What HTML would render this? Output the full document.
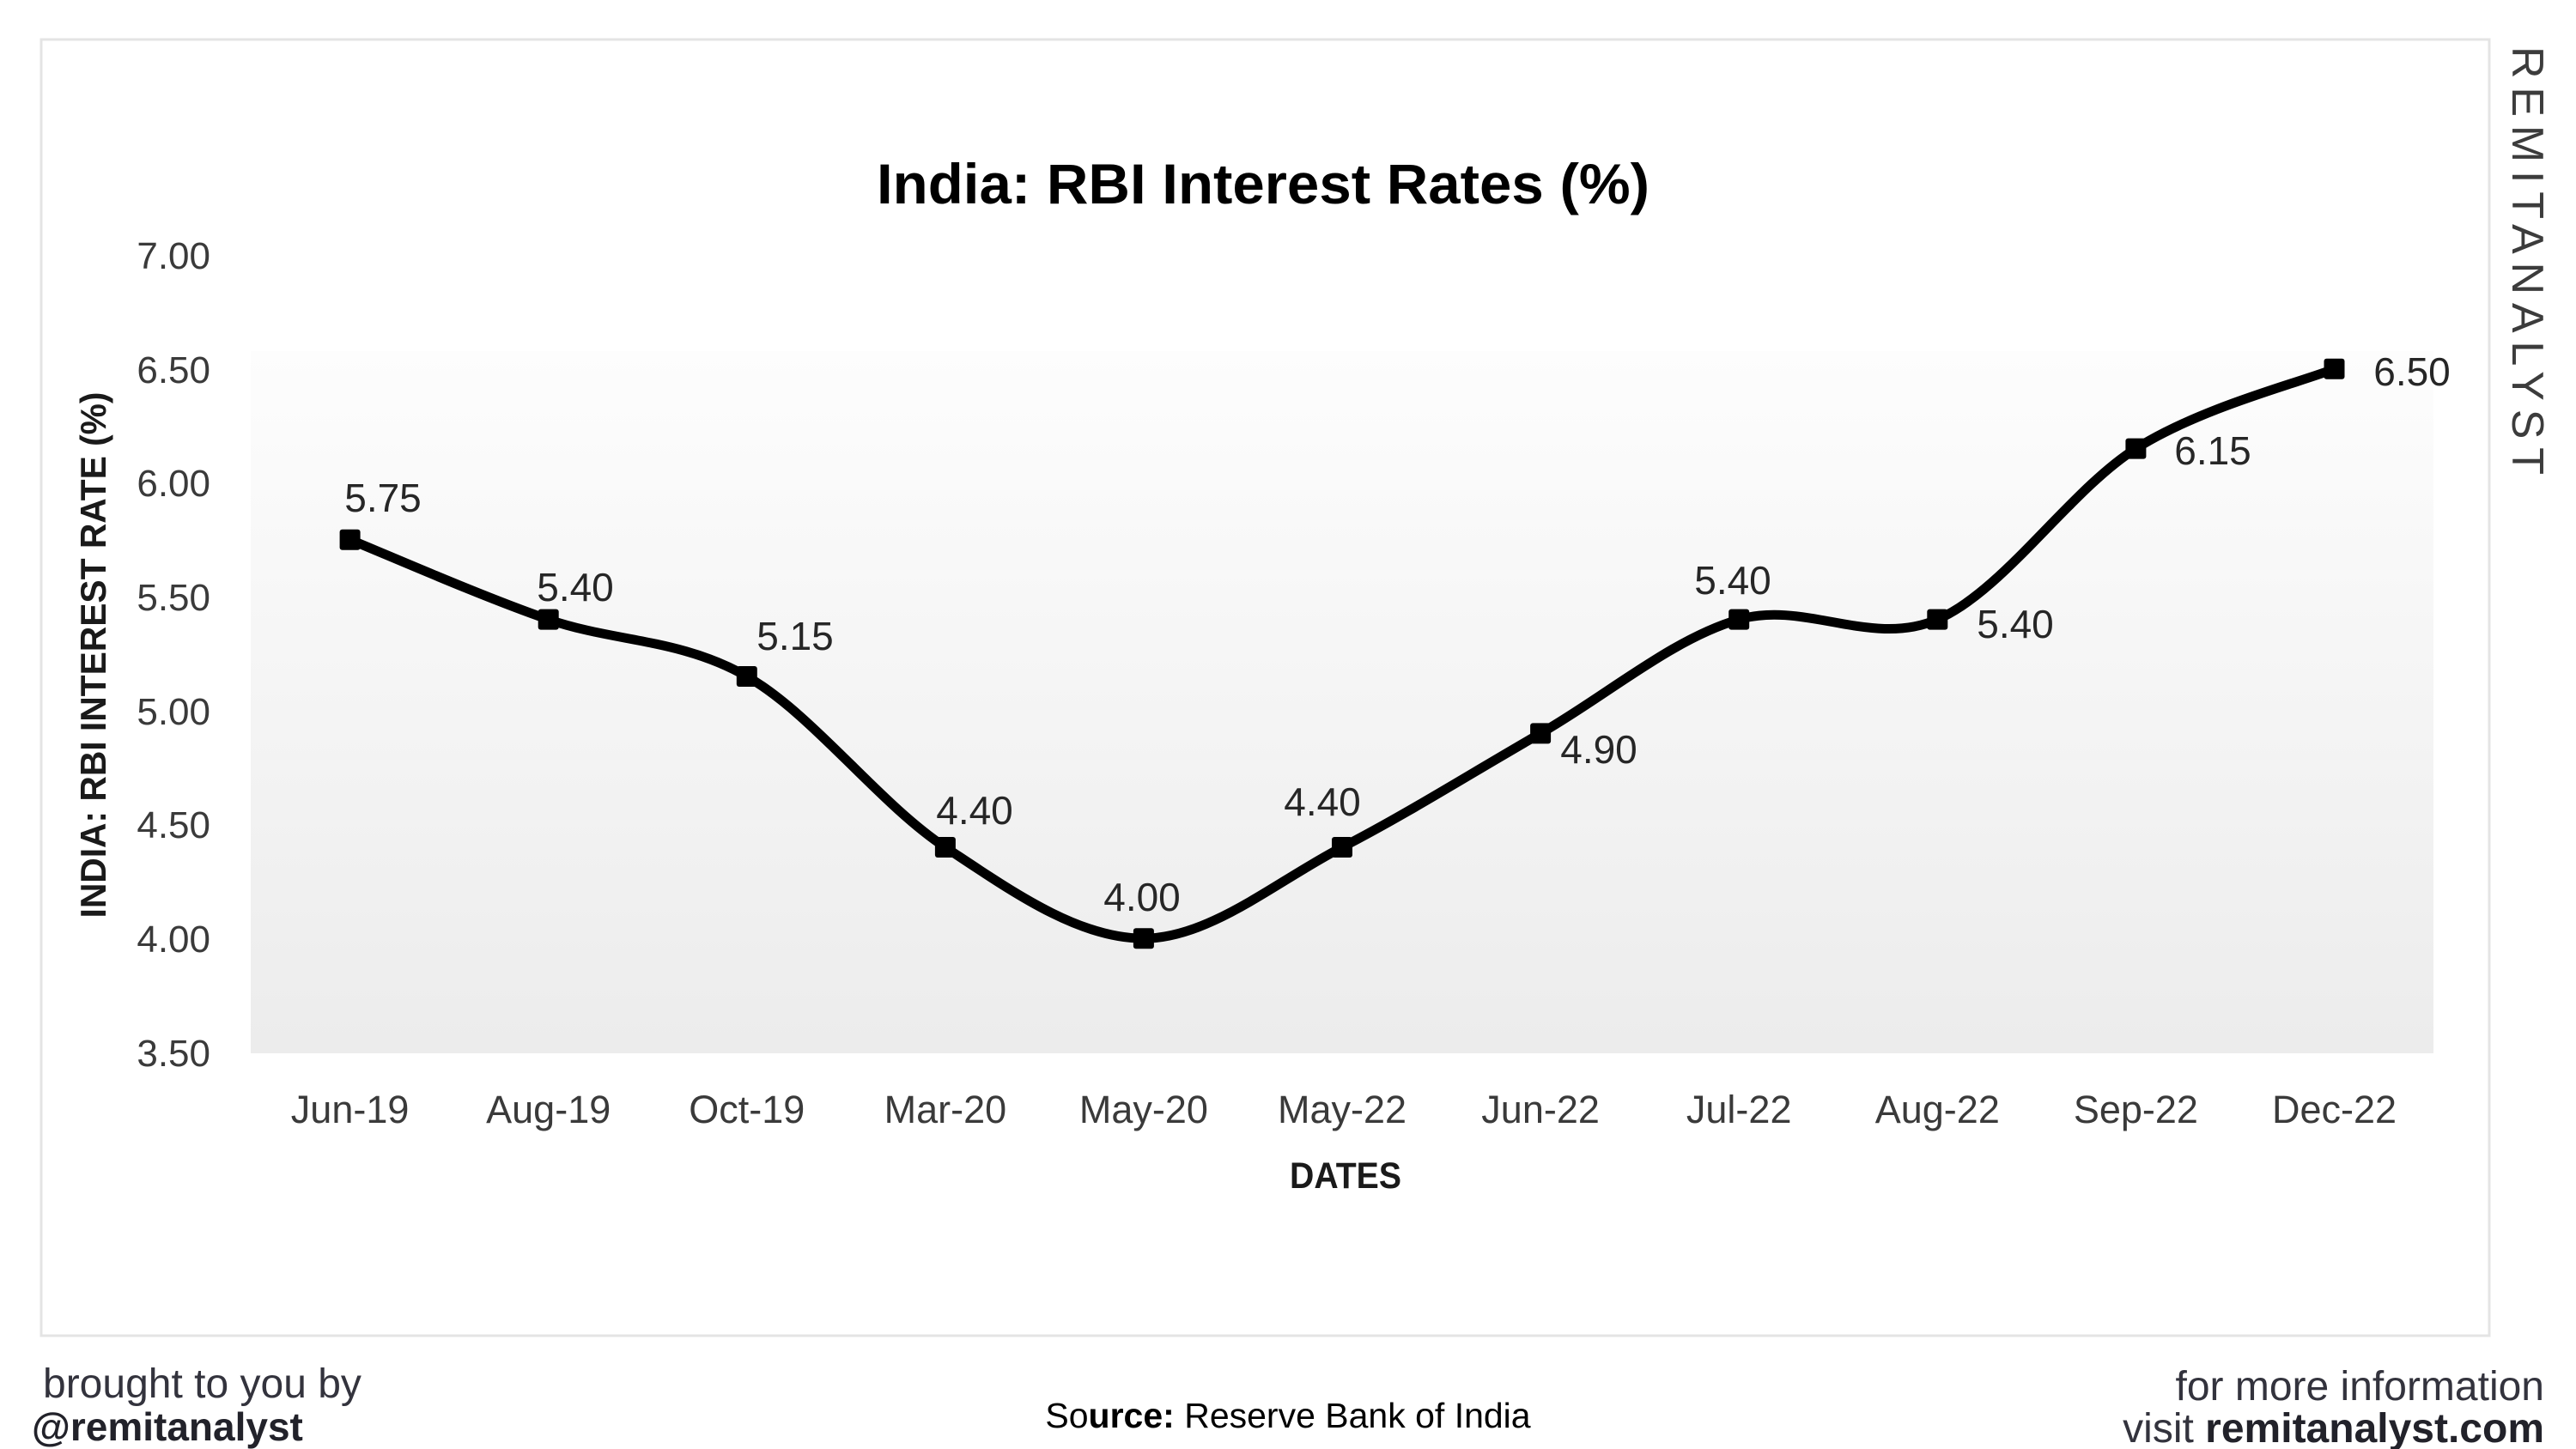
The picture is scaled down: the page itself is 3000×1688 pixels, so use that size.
<!DOCTYPE html>
<html>
<head>
<meta charset="utf-8">
<style>
  html, body { margin:0; padding:0; background:#ffffff; }
  body { width:3000px; height:1688px; overflow:hidden; }
  svg { display:block; }
  text { font-family: "Liberation Sans", Arial, sans-serif; }
</style>
</head>
<body>
<svg width="3000" height="1688" viewBox="0 0 3000 1688" xmlns="http://www.w3.org/2000/svg">
  <defs>
    <linearGradient id="bg" x1="0" y1="0" x2="0" y2="1">
      <stop offset="0" stop-color="#fdfdfd"/>
      <stop offset="1" stop-color="#ececec"/>
    </linearGradient>
  </defs>
  <rect x="0" y="0" width="3000" height="1688" fill="#ffffff"/>

  <!-- chart frame -->
  <rect x="48" y="46" width="2851" height="1510" fill="#ffffff" stroke="#e4e4e4" stroke-width="3"/>

  <!-- plot area -->
  <rect x="292" y="409" width="2542" height="818" fill="url(#bg)"/>

  <!-- title -->
  <text x="1471" y="237" text-anchor="middle" font-size="66" font-weight="bold" fill="#000" textLength="900" lengthAdjust="spacingAndGlyphs">India: RBI Interest Rates (%)</text>

  <!-- y tick labels -->
  <g font-size="44" fill="#3a3a3a" text-anchor="end">
    <text x="245" y="313">7.00</text>
    <text x="245" y="446">6.50</text>
    <text x="245" y="578">6.00</text>
    <text x="245" y="711">5.50</text>
    <text x="245" y="844">5.00</text>
    <text x="245" y="976">4.50</text>
    <text x="245" y="1109">4.00</text>
    <text x="245" y="1242">3.50</text>
  </g>

  <!-- y axis title -->
  <text transform="translate(123,763) rotate(-90)" text-anchor="middle" font-size="42" font-weight="bold" fill="#1a1a1a" textLength="613" lengthAdjust="spacingAndGlyphs">INDIA: RBI INTEREST RATE (%)</text>

  <!-- x labels -->
  <g font-size="45" fill="#3a3a3a" text-anchor="middle">
    <text x="407.6" y="1308">Jun-19</text>
    <text x="638.7" y="1308">Aug-19</text>
    <text x="869.8" y="1308">Oct-19</text>
    <text x="1100.9" y="1308">Mar-20</text>
    <text x="1331.9" y="1308">May-20</text>
    <text x="1563.0" y="1308">May-22</text>
    <text x="1794.1" y="1308">Jun-22</text>
    <text x="2025.2" y="1308">Jul-22</text>
    <text x="2256.3" y="1308">Aug-22</text>
    <text x="2487.4" y="1308">Sep-22</text>
    <text x="2718.5" y="1308">Dec-22</text>
  </g>

  <!-- x axis title -->
  <text x="1567" y="1384" text-anchor="middle" font-size="43" font-weight="bold" fill="#1a1a1a" textLength="130" lengthAdjust="spacingAndGlyphs">DATES</text>

  <!-- series line -->
  <path d="M407.6 628.75
           C446.1 644.23, 561.67 695.10, 638.7 721.64
           C715.73 748.18, 792.77 743.76, 869.8 787.99
           C946.83 832.22, 1023.87 936.17, 1100.9 987.04
           C1177.93 1037.91, 1254.87 1093.2, 1331.9 1093.2
           C1408.93 1093.2, 1485.97 1026.85, 1563.0 987.04
           C1640.03 947.23, 1717.07 898.57, 1794.1 854.34
           C1871.13 810.11, 1948.17 743.76, 2025.2 721.64
           C2102.23 699.52, 2179.27 754.82, 2256.3 721.64
           C2333.33 688.46, 2410.37 571.25, 2487.4 522.59
           C2564.43 473.93, 2679.98 445.18, 2718.5 429.7"
        fill="none" stroke="#000" stroke-width="11" stroke-linecap="round" stroke-linejoin="round"/>

  <!-- markers -->
  <g fill="#000">
    <rect x="395.6" y="616.75" width="24" height="24" rx="3"/>
    <rect x="626.7" y="709.64" width="24" height="24" rx="3"/>
    <rect x="857.8" y="775.99" width="24" height="24" rx="3"/>
    <rect x="1088.9" y="975.04" width="24" height="24" rx="3"/>
    <rect x="1319.9" y="1081.2" width="24" height="24" rx="3"/>
    <rect x="1551.0" y="975.04" width="24" height="24" rx="3"/>
    <rect x="1782.1" y="842.34" width="24" height="24" rx="3"/>
    <rect x="2013.2" y="709.64" width="24" height="24" rx="3"/>
    <rect x="2244.3" y="709.64" width="24" height="24" rx="3"/>
    <rect x="2475.4" y="510.59" width="24" height="24" rx="3"/>
    <rect x="2706.5" y="417.7" width="24" height="24" rx="3"/>
  </g>

  <!-- data labels -->
  <g font-size="46" fill="#262626" text-anchor="middle">
    <text x="446" y="596">5.75</text>
    <text x="670" y="700">5.40</text>
    <text x="926" y="757">5.15</text>
    <text x="1135" y="960">4.40</text>
    <text x="1330" y="1061">4.00</text>
    <text x="1540" y="950">4.40</text>
    <text x="1862" y="889">4.90</text>
    <text x="2018" y="692">5.40</text>
    <text x="2347" y="743">5.40</text>
    <text x="2577" y="541">6.15</text>
    <text x="2809" y="449">6.50</text>
  </g>

  <!-- watermark -->
  <text transform="translate(2926,54) rotate(90)" font-size="52" fill="#3c3c3c" textLength="499" lengthAdjust="spacing">REMITANALYST</text>

  <!-- footer -->
  <text x="50" y="1628" font-size="48" fill="#33333d">brought to you by</text>
  <text x="37" y="1678" font-size="46" font-weight="bold" fill="#22222a">@remitanalyst</text>

  <text x="1500" y="1663" text-anchor="middle" font-size="41" fill="#000">So<tspan font-weight="bold">urce:</tspan> Reserve Bank of India</text>

  <text x="2963" y="1631" text-anchor="end" font-size="48" fill="#33333d">for more information</text>
  <text x="2963" y="1680" text-anchor="end" font-size="48" fill="#33333d">visit <tspan font-weight="bold" fill="#22222a">remitanalyst.com</tspan></text>
</svg>
</body>
</html>
